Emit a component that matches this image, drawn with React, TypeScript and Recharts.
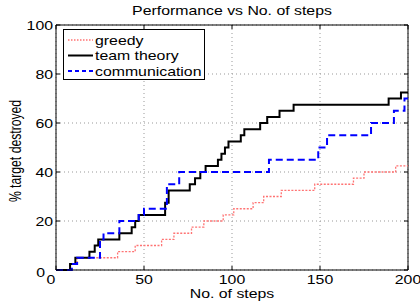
import React from 'react';
import { LineChart, Line, XAxis, YAxis, CartesianGrid, ReferenceLine } from 'recharts';

const stepTicks = [0, 50, 100, 150, 200];
const pctTicks = [0, 20, 40, 60, 80, 100];

const greedySteps = [0, 8, 12, 35, 45, 60, 67, 77, 84, 95, 101, 112, 118, 128, 147, 169, 175, 193, 200];
const greedyValues = [0, 2.5, 5, 7.5, 10, 12.5, 15, 17.5, 20, 22.5, 25, 27.5, 30, 32.5, 35, 37.5, 40, 42.5, 42.5];

const teamSteps = [0, 8, 11, 19, 22, 24, 36, 43, 45, 47, 62, 64, 76, 79, 82, 85, 92, 94, 96, 98, 105, 107, 116, 120, 127, 135, 189, 196, 200];
const teamValues = [0, 2.5, 5, 7.5, 10, 12.5, 15, 17.5, 20, 22.5, 27.5, 32.5, 35, 37.5, 40, 42.5, 45, 47.5, 50, 52.5, 55, 57.5, 60, 62.5, 65, 67.5, 70, 72.5, 72.5];

const commSteps = [0, 9, 12, 25, 27, 36, 47, 50, 63, 70, 121, 149, 154, 179, 192, 198, 200];
const commValues = [0, 2.5, 5, 12.5, 15, 20, 22.5, 25, 35, 40, 45, 50, 55, 60, 65, 70, 70];

const toPoints = (steps: number[], values: number[]) => steps.map((x, i) => ({ x, v: values[i] }));

const series = [
  { name: 'greedy', data: toPoints(greedySteps, greedyValues), color: '#ff7373', width: 1.3, dash: '2 1.5', legendDash: '1.5 1.5' },
  { name: 'team theory', data: toPoints(teamSteps, teamValues), color: '#000000', width: 2, dash: undefined, legendDash: undefined },
  { name: 'communication', data: toPoints(commSteps, commValues), color: '#0000ff', width: 2, dash: '7 4', legendDash: '4 3' },
];

const W = 420;
const H = 306;
const TOP = 25;
const BOTTOM = 270;
const LEFT = 56;
const RIGHT = 408;
const FONT = '"Liberation Sans", Arial, sans-serif';
const SX = 1.3;

// matlab-ish text: helvetica stretched sideways
const Txt = ({ x, y, anchor = 'middle', rotate = false, children }: any) => (
  <text
    transform={`translate(${x},${y}) scale(${SX},1)${rotate ? ' rotate(-90)' : ''}`}
    textAnchor={anchor}
    fontFamily={FONT}
    fontSize={12.2}
    fill="#000"
  >
    {children}
  </text>
);

const XTick = ({ x, payload }: any) => {
  const nudge = payload.value === 0 ? -5 : 0;
  return (
    <g>
      <line x1={x} x2={x} y1={BOTTOM} y2={BOTTOM - 4} stroke="#000" />
      <line x1={x} x2={x} y1={TOP} y2={TOP + 4} stroke="#000" />
      <Txt x={x + nudge} y={284}>{payload.value}</Txt>
    </g>
  );
};

const YTick = ({ y, payload }: any) => {
  const zero = payload.value === 0;
  return (
    <g>
      <line x1={LEFT} x2={LEFT + 4} y1={y} y2={y} stroke="#000" />
      <line x1={RIGHT} x2={RIGHT - 4} y1={y} y2={y} stroke="#000" />
      <Txt x={zero ? 45 : 53} y={y + (zero ? 6.5 : 4.5)} anchor="end">{payload.value}</Txt>
    </g>
  );
};

export default function App() {
  return (
    <div style={{ position: 'absolute', left: 0, top: 0, width: W, height: H, background: '#fff' }}>
      <LineChart width={W} height={H} margin={{ top: TOP, right: W - RIGHT, left: 0, bottom: 0 }}>
        <CartesianGrid stroke="#999" strokeDasharray="1 3" />
        <XAxis
          dataKey="x"
          type="number"
          domain={[0, 200]}
          ticks={stepTicks}
          height={H - BOTTOM}
          tickSize={0}
          tickLine={false}
          axisLine={{ stroke: '#000' }}
          tick={<XTick />}
          allowDuplicatedCategory={false}
        />
        <YAxis
          type="number"
          domain={[0, 100]}
          ticks={pctTicks}
          width={LEFT}
          tickSize={0}
          tickLine={false}
          axisLine={{ stroke: '#000' }}
          tick={<YTick />}
        />
        <ReferenceLine x={200} stroke="#000" />
        <ReferenceLine y={100} stroke="#000" />
        {series.map((s) => (
          <Line
            key={s.name}
            data={s.data}
            dataKey="v"
            name={s.name}
            type="stepAfter"
            stroke={s.color}
            strokeWidth={s.width}
            strokeDasharray={s.dash}
            dot={false}
            activeDot={false}
            isAnimationActive={false}
          />
        ))}
      </LineChart>
      <svg width={W} height={H} style={{ position: 'absolute', left: 0, top: 0, pointerEvents: 'none' }}>
        <Txt x={(LEFT + RIGHT) / 2} y={15}>Performance vs No. of steps</Txt>
        <Txt x={(LEFT + RIGHT) / 2} y={298}>No. of steps</Txt>
        <Txt x={21} y={151} rotate>% target destroyed</Txt>
        <rect x={63.5} y={29.5} width={141} height={50} fill="#fff" stroke="#000" />
        {series.map((s, i) => {
          const cy = 40 + i * 15.5;
          return (
            <g key={s.name}>
              <line x1={68} x2={93} y1={cy} y2={cy} stroke={s.color} strokeWidth={s.width} strokeDasharray={s.legendDash} />
              <Txt x={95} y={cy + 4.5} anchor="start">{s.name}</Txt>
            </g>
          );
        })}
      </svg>
    </div>
  );
}
